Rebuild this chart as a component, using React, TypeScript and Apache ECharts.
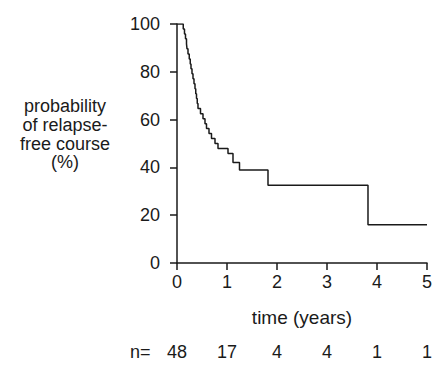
import React, { useEffect, useRef } from "react";
import * as echarts from "echarts";

// Kaplan-Meier step points: time (years) at which the curve drops to value (%)
const eventTimes = [0, 0.125, 0.15, 0.17, 0.19, 0.2, 0.22, 0.245, 0.265, 0.28, 0.3, 0.32, 0.34, 0.36, 0.375, 0.39, 0.405, 0.42, 0.47, 0.52, 0.56, 0.59, 0.64, 0.69, 0.76, 0.82, 1.02, 1.12, 1.25, 1.82, 3.82, 5.0];
const survival = [100, 97.9, 95.8, 93.8, 91.7, 89.6, 87.5, 85.4, 83.3, 81.3, 79.2, 77.1, 75.0, 72.9, 70.8, 68.8, 66.7, 64.6, 62.5, 60.4, 58.3, 56.3, 54.2, 52.1, 50.0, 47.9, 45.8, 42.0, 38.9, 32.5, 16.0, 16.0];
const yearTicks = [0, 1, 2, 3, 4, 5];
const atRisk = [48, 17, 4, 4, 1, 1];
const yTitle = "probability\nof relapse-\nfree course\n(%)";
const xTitle = "time (years)";

const FONT = "'Liberation Sans', Arial, Helvetica, sans-serif";
const INK = "#1a1a1a";

export default function App() {
  const ref = useRef<HTMLDivElement>(null);
  useEffect(() => {
    if (!ref.current) return;
    const chart = echarts.init(ref.current, undefined, { renderer: "svg" });
    const data = eventTimes.map((t, i) => [t, survival[i]]);
    chart.setOption({
      animation: false,
      backgroundColor: "#ffffff",
      grid: { left: 177, right: 7, top: 24, bottom: 106, containLabel: false },
      xAxis: [
        {
          type: "value",
          min: 0,
          max: 5,
          interval: 1,
          axisLine: { show: true, lineStyle: { color: INK, width: 1.5 } },
          axisTick: { show: true, length: 7, lineStyle: { color: INK, width: 1.5 } },
          axisLabel: { color: INK, fontSize: 18, fontFamily: FONT, margin: 10 },
          splitLine: { show: false },
          name: xTitle,
          nameLocation: "middle",
          nameGap: 45,
          nameTextStyle: { color: INK, fontSize: 19, fontFamily: FONT, verticalAlign: "top" },
        },
        {
          type: "value",
          position: "bottom",
          min: 0,
          max: 5,
          interval: 1,
          axisLine: { show: false },
          axisTick: { show: false },
          splitLine: { show: false },
          axisLabel: {
            color: INK,
            fontSize: 18,
            fontFamily: FONT,
            margin: 80,
            formatter: (v: number) => {
              const i = yearTicks.indexOf(Math.round(v));
              return i >= 0 ? String(atRisk[i]) : "";
            },
          },
        },
      ],
      yAxis: {
        type: "value",
        min: 0,
        max: 100,
        interval: 20,
        axisLine: { show: true, lineStyle: { color: INK, width: 1.5 } },
        axisTick: { show: true, length: 7, lineStyle: { color: INK, width: 1.5 } },
        axisLabel: { color: INK, fontSize: 18, fontFamily: FONT, margin: 17 },
        splitLine: { show: false },
      },
      graphic: [
        {
          type: "text",
          left: 20,
          top: 97,
          style: {
            text: yTitle,
            fill: INK,
            font: `18px ${FONT}`,
            textAlign: "center",
            lineHeight: 18.6,
            x: 48,
          },
        },
        {
          type: "text",
          left: 130,
          top: 343,
          style: { text: "n=", fill: INK, font: `18px ${FONT}` },
        },
      ],
      series: [
        {
          type: "line",
          step: "end",
          data,
          symbol: "none",
          xAxisIndex: 0,
          lineStyle: { color: INK, width: 1.5 },
        },
      ],
    });
    return () => chart.dispose();
  }, []);
  return (
    <div
      ref={ref}
      style={{ position: "fixed", left: 0, top: 0, width: 435, height: 369, background: "#fff" }}
    />
  );
}
